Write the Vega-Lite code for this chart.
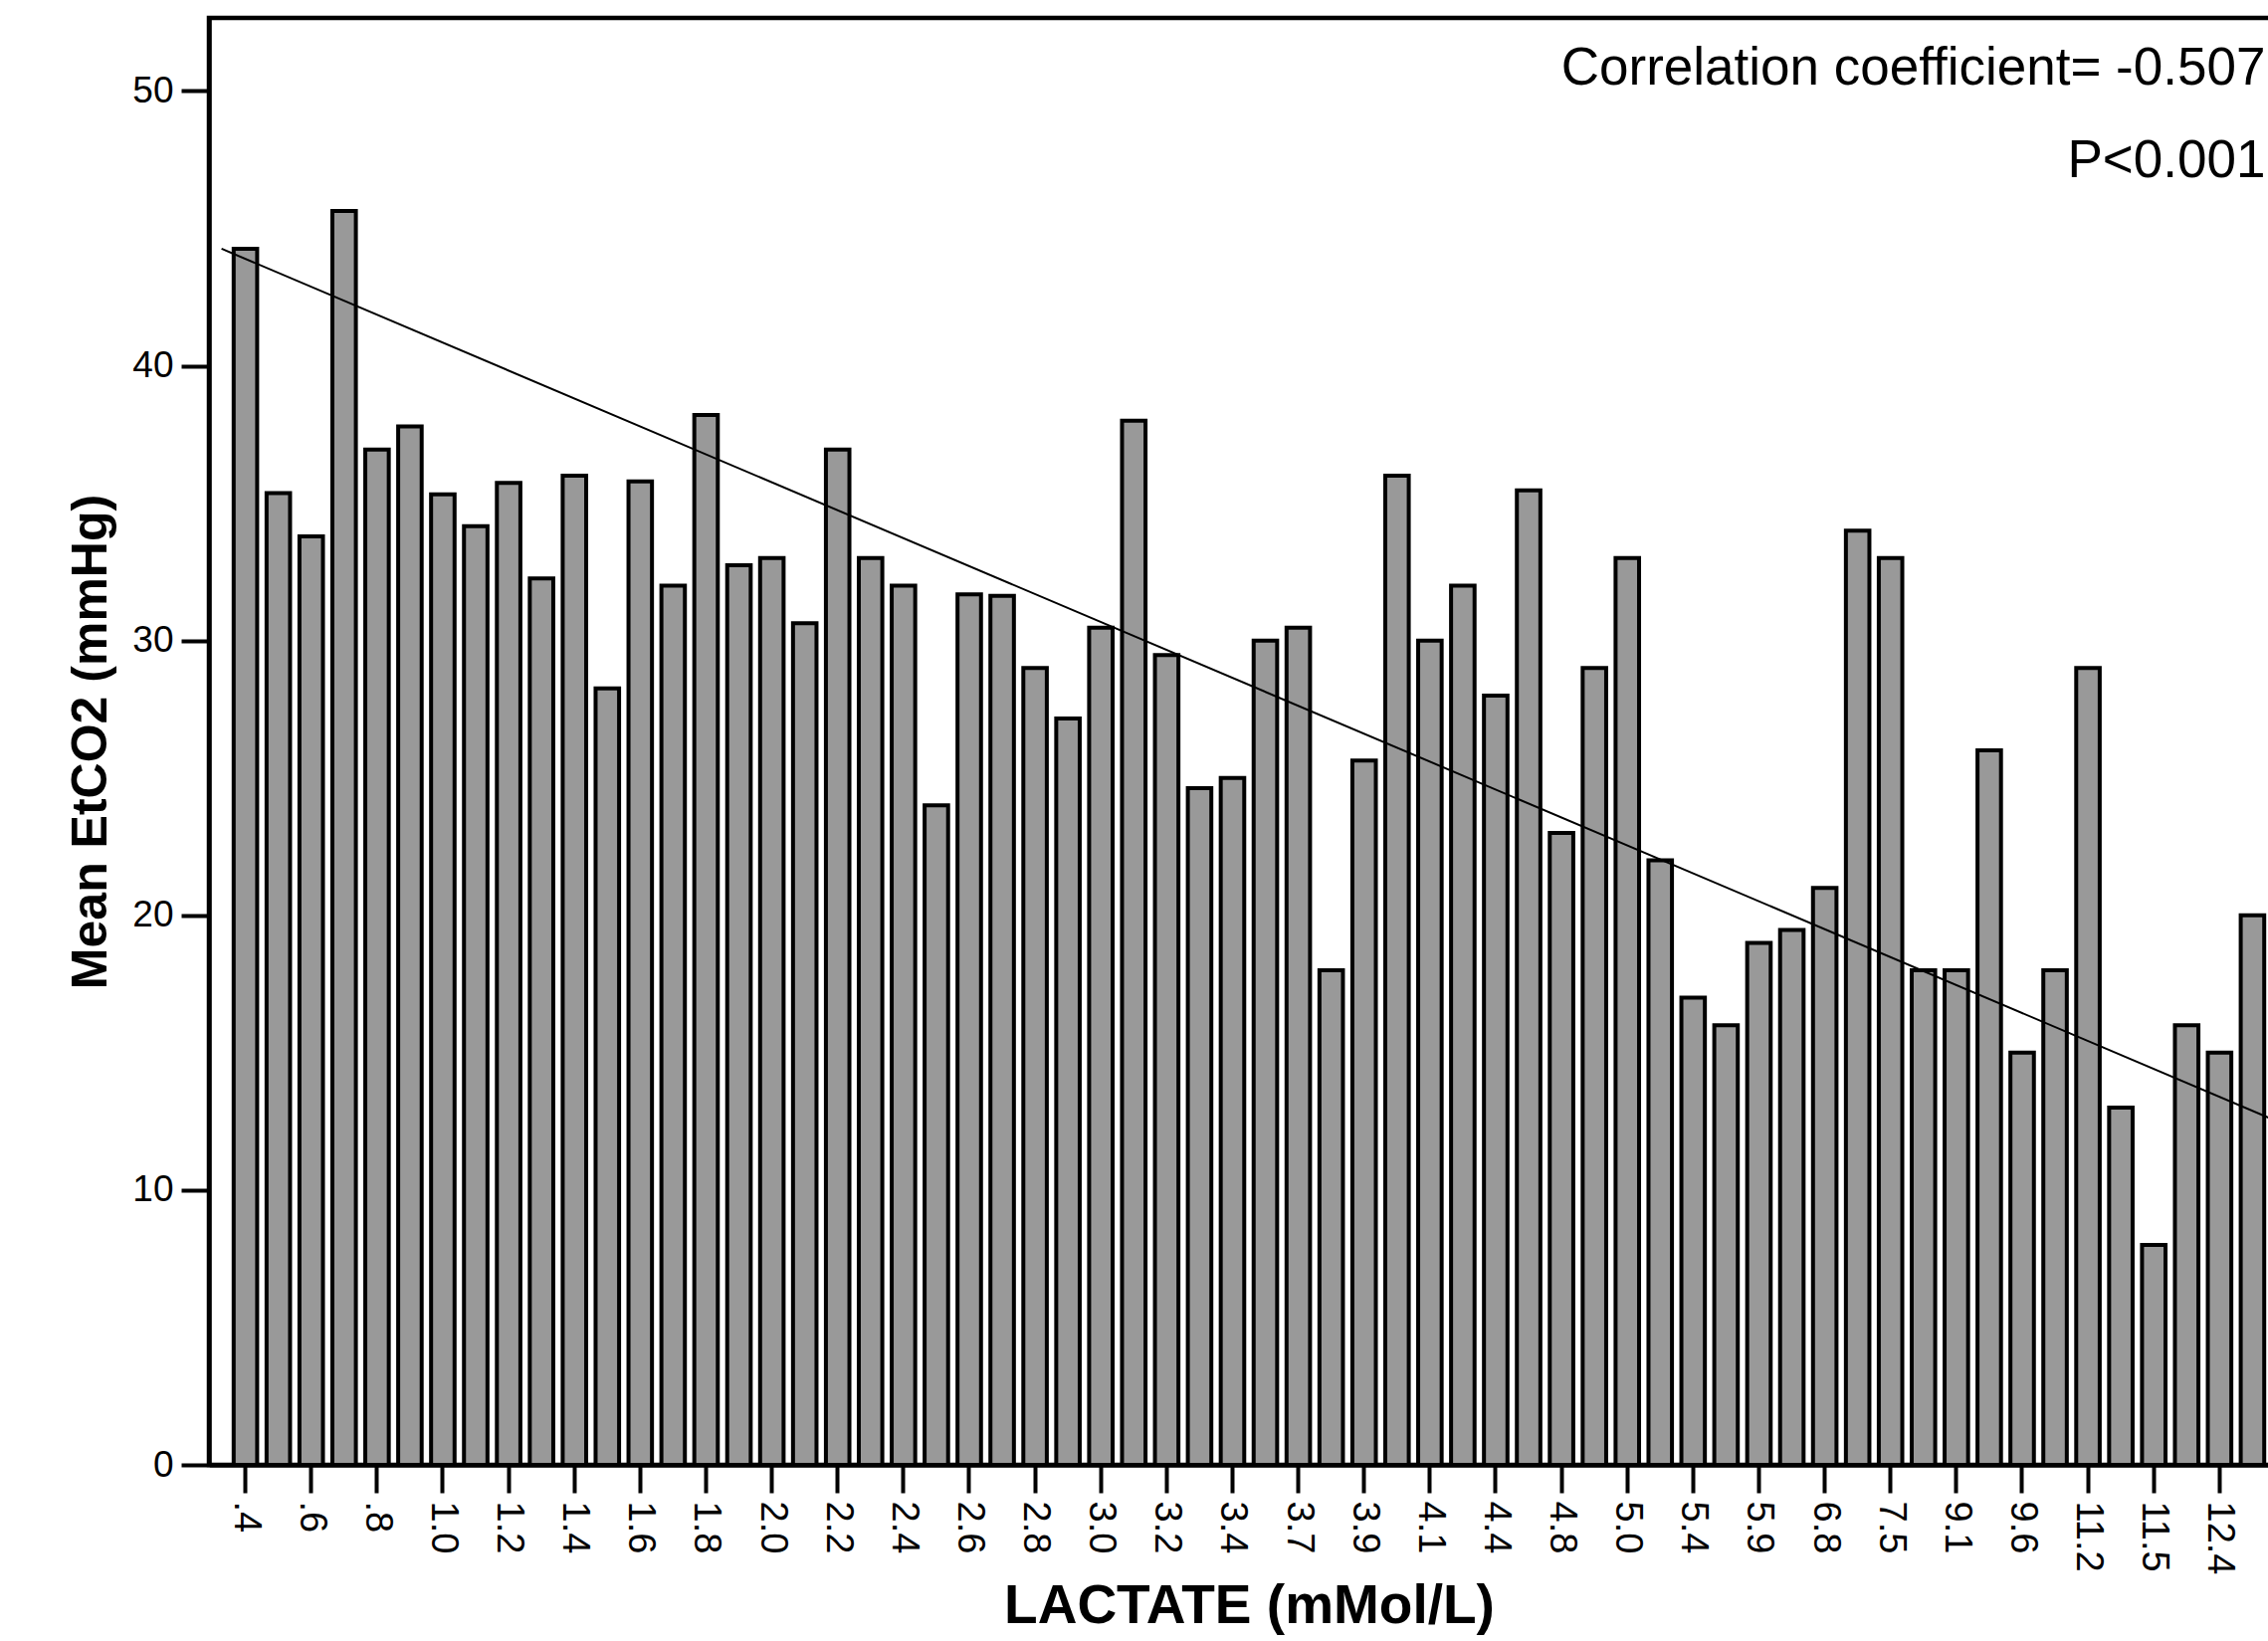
{
  "$schema": "https://vega.github.io/schema/vega-lite/v6.json",
  "autosize": {"type": "none"},
  "width": 2090,
  "height": 1454,
  "padding": {"left": 210, "top": 18, "right": 0, "bottom": 177},
  "background": "white",
  "config": {
    "view": {"stroke": "black", "strokeWidth": 4.5},
    "axis": {"grid": false, "domainColor": "black", "domainWidth": 4.5, "tickColor": "black", "tickWidth": 4, "labelColor": "black", "titleColor": "black"}
  },
  "datasets": {
    "bars": [
      {"lactate": ".4", "etco2": 44.26}, {"lactate": ".5", "etco2": 35.37}, {"lactate": ".6", "etco2": 33.79}, {"lactate": ".7", "etco2": 45.63},
      {"lactate": ".8", "etco2": 36.95}, {"lactate": ".9", "etco2": 37.79}, {"lactate": "1.0", "etco2": 35.32}, {"lactate": "1.1", "etco2": 34.16},
      {"lactate": "1.2", "etco2": 35.74}, {"lactate": "1.3", "etco2": 32.26}, {"lactate": "1.4", "etco2": 36.0}, {"lactate": "1.5", "etco2": 28.26},
      {"lactate": "1.6", "etco2": 35.79}, {"lactate": "1.7", "etco2": 32.0}, {"lactate": "1.8", "etco2": 38.21}, {"lactate": "1.9", "etco2": 32.74},
      {"lactate": "2.0", "etco2": 33.0}, {"lactate": "2.1", "etco2": 30.63}, {"lactate": "2.2", "etco2": 36.95}, {"lactate": "2.3", "etco2": 33.0},
      {"lactate": "2.4", "etco2": 32.0}, {"lactate": "2.5", "etco2": 24.0}, {"lactate": "2.6", "etco2": 31.68}, {"lactate": "2.7", "etco2": 31.63},
      {"lactate": "2.8", "etco2": 29.0}, {"lactate": "2.9", "etco2": 27.16}, {"lactate": "3.0", "etco2": 30.47}, {"lactate": "3.1", "etco2": 38.0},
      {"lactate": "3.2", "etco2": 29.47}, {"lactate": "3.3", "etco2": 24.63}, {"lactate": "3.4", "etco2": 25.0}, {"lactate": "3.5", "etco2": 30.0},
      {"lactate": "3.7", "etco2": 30.47}, {"lactate": "3.8", "etco2": 18.0}, {"lactate": "3.9", "etco2": 25.63}, {"lactate": "4.0", "etco2": 36.0},
      {"lactate": "4.1", "etco2": 30.0}, {"lactate": "4.3", "etco2": 32.0}, {"lactate": "4.4", "etco2": 28.0}, {"lactate": "4.6", "etco2": 35.47},
      {"lactate": "4.8", "etco2": 23.0}, {"lactate": "4.9", "etco2": 29.0}, {"lactate": "5.0", "etco2": 33.0}, {"lactate": "5.2", "etco2": 22.0},
      {"lactate": "5.4", "etco2": 17.0}, {"lactate": "5.6", "etco2": 16.0}, {"lactate": "5.9", "etco2": 19.0}, {"lactate": "6.3", "etco2": 19.47},
      {"lactate": "6.8", "etco2": 21.0}, {"lactate": "7.1", "etco2": 34.0}, {"lactate": "7.5", "etco2": 33.0}, {"lactate": "8.4", "etco2": 18.0},
      {"lactate": "9.1", "etco2": 18.0}, {"lactate": "9.4", "etco2": 26.0}, {"lactate": "9.6", "etco2": 15.0}, {"lactate": "10.5", "etco2": 18.0},
      {"lactate": "11.2", "etco2": 29.0}, {"lactate": "11.4", "etco2": 13.0}, {"lactate": "11.5", "etco2": 8.0}, {"lactate": "11.8", "etco2": 16.0},
      {"lactate": "12.4", "etco2": 15.0}, {"lactate": "13.0", "etco2": 20.0}
    ],
    "fit": [{"from": ".4", "to": "13.0", "yStart": 44.26, "yEnd": 12.27}],
    "notes": [
      {"label": "Correlation coefficient= -0.507", "at": "13.0", "v": 50.8},
      {"label": "P<0.001", "at": "13.0", "v": 47.45}
    ]
  },
  "encoding": {
    "x": {
      "type": "ordinal",
      "scale": {
        "domain": [".4", ".5", ".6", ".7", ".8", ".9", "1.0", "1.1", "1.2", "1.3", "1.4", "1.5", "1.6", "1.7", "1.8", "1.9", "2.0", "2.1", "2.2", "2.3", "2.4", "2.5", "2.6", "2.7", "2.8", "2.9", "3.0", "3.1", "3.2", "3.3", "3.4", "3.5", "3.7", "3.8", "3.9", "4.0", "4.1", "4.3", "4.4", "4.6", "4.8", "4.9", "5.0", "5.2", "5.4", "5.6", "5.9", "6.3", "6.8", "7.1", "7.5", "8.4", "9.1", "9.4", "9.6", "10.5", "11.2", "11.4", "11.5", "11.8", "12.4", "13.0"],
        "paddingInner": 0.286,
        "paddingOuter": 0.75
      }
    },
    "y": {
      "type": "quantitative",
      "scale": {"domain": [0, 52.66], "nice": false, "zero": true}
    }
  },
  "layer": [
    {
      "data": {"name": "bars"},
      "mark": {"type": "bar", "fill": "#999999", "stroke": "black", "strokeWidth": 4},
      "encoding": {
        "x": {
          "field": "lactate",
          "type": "ordinal",
          "axis": {
            "values": [".4", ".6", ".8", "1.0", "1.2", "1.4", "1.6", "1.8", "2.0", "2.2", "2.4", "2.6", "2.8", "3.0", "3.2", "3.4", "3.7", "3.9", "4.1", "4.4", "4.8", "5.0", "5.4", "5.9", "6.8", "7.5", "9.1", "9.6", "11.2", "11.5", "12.4"],
            "labelAngle": 90,
            "labelFont": "Liberation Sans",
            "labelFontSize": 38,
            "labelPadding": 8,
            "tickSize": 28,
            "title": "LACTATE (mMol/L)",
            "titleFont": "Liberation Sans",
            "titleFontWeight": "bold",
            "titleFontSize": 55,
            "titleBaseline": "alphabetic",
            "titleY": 158
          }
        },
        "y": {
          "field": "etco2",
          "type": "quantitative",
          "axis": {
            "values": [0, 10, 20, 30, 40, 50],
            "labelFont": "Liberation Sans",
            "labelFontSize": 37,
            "labelPadding": 8,
            "tickSize": 28,
            "title": "Mean EtCO2 (mmHg)",
            "titleFont": "Liberation Sans",
            "titleFontWeight": "bold",
            "titleFontSize": 50,
            "titleAngle": -90,
            "titleBaseline": "alphabetic",
            "titleX": -104
          }
        }
      }
    },
    {
      "data": {"name": "fit"},
      "mark": {"type": "rule", "color": "black", "strokeWidth": 2, "xOffset": -24, "x2Offset": 40},
      "encoding": {
        "x": {"field": "from", "type": "ordinal"},
        "x2": {"field": "to"},
        "y": {"field": "yStart", "type": "quantitative"},
        "y2": {"field": "yEnd"}
      }
    },
    {
      "data": {"name": "notes"},
      "mark": {"type": "text", "align": "right", "baseline": "middle", "dx": 13, "font": "Liberation Sans", "fontSize": 53, "color": "black"},
      "encoding": {
        "x": {"field": "at", "type": "ordinal"},
        "y": {"field": "v", "type": "quantitative"},
        "text": {"field": "label"}
      }
    }
  ]
}
